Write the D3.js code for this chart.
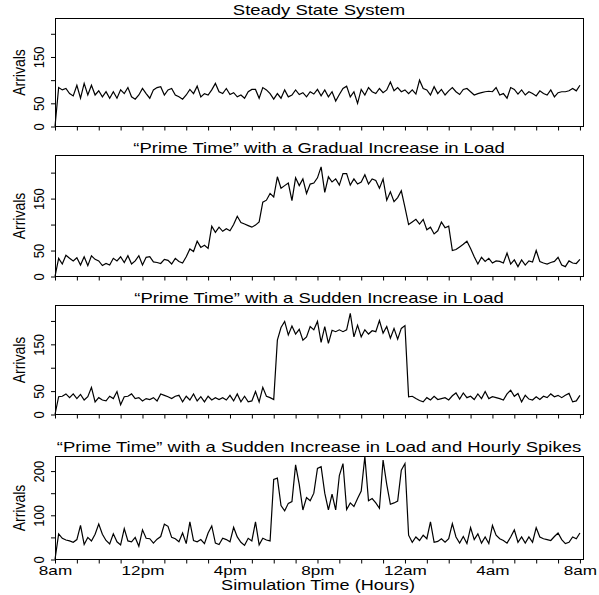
<!DOCTYPE html>
<html>
<head>
<meta charset="utf-8">
<script src="https://cdn.jsdelivr.net/npm/d3@7"></script>
<style>
body { margin: 0; background: #fff; }
svg { display: block; font-family: "Liberation Sans", Arial, Helvetica, sans-serif; }
</style>
</head>
<body>
<svg id="chart" width="599" height="595"></svg>
<script>
// arrivals per 10 minute interval, 8am -> 8am (145 samples)
var steady = [
  0, 84, 79, 82, 71, 66, 89, 61, 93, 68,
  89, 68, 77, 64, 75, 61, 75, 61, 79, 71,
  84, 64, 59, 68, 82, 71, 61, 79, 84, 86,
  68, 79, 82, 68, 64, 59, 68, 80, 71, 87,
  64, 71, 68, 79, 93, 75, 71, 82, 69, 73,
  64, 68, 61, 75, 80, 80, 61, 84, 79, 71,
  59, 71, 61, 79, 64, 68, 79, 69, 73, 64,
  75, 70, 80, 66, 79, 64, 75, 55, 69, 82,
  87, 64, 75, 50, 80, 68, 84, 75, 71, 82,
  73, 79, 96, 77, 84, 75, 79, 71, 79, 70,
  100, 82, 79, 68, 86, 71, 80, 68, 77, 84,
  75, 69, 80, 82, 75, 68, 71, 73, 75, 76,
  75, 84, 68, 71, 61, 84, 80, 70, 79, 68,
  75, 71, 66, 77, 71, 68, 79, 64, 73, 75,
  75, 77, 82, 77, 89
];
var gradual = [
  0, 35, 24, 41, 35, 30, 36, 22, 38, 21,
  40, 33, 30, 21, 25, 22, 35, 30, 38, 27,
  40, 24, 30, 40, 22, 37, 38, 28, 27, 25,
  33, 31, 24, 35, 29, 26, 38, 53, 48, 68,
  56, 60, 54, 97, 85, 95, 87, 92, 88, 100,
  116, 104, 101, 98, 95, 99, 105, 143, 147, 160,
  153, 192, 170, 175, 180, 146, 190, 175, 188, 160,
  178, 180, 190, 211, 162, 192, 182, 188, 176, 198,
  198, 176, 188, 178, 182, 196, 178, 188, 185, 170,
  188, 147, 163, 144, 152, 165, 133, 100, 105, 110,
  101, 110, 90, 95, 82, 88, 105, 94, 97, 50,
  52, 57, 62, 68, 54, 38, 24, 37, 29, 35,
  26, 30, 29, 26, 45, 24, 32, 19, 32, 22,
  30, 28, 50, 29, 26, 24, 27, 29, 37, 22,
  19, 30, 26, 25, 33
];
var sudden = [
  0, 38, 39, 44, 36, 44, 34, 43, 31, 38,
  58, 27, 36, 31, 29, 39, 34, 49, 21, 38,
  39, 44, 34, 36, 29, 34, 32, 36, 29, 44,
  41, 38, 34, 39, 41, 27, 39, 31, 44, 29,
  38, 27, 39, 31, 36, 32, 36, 31, 41, 29,
  44, 27, 39, 27, 29, 49, 27, 58, 39, 36,
  32, 159, 186, 199, 170, 189, 172, 182, 159, 166,
  188, 181, 199, 154, 188, 152, 180, 177, 181, 177,
  181, 216, 166, 191, 166, 181, 172, 179, 177, 201,
  174, 188, 163, 184, 161, 184, 190, 38, 39, 34,
  30, 27, 36, 31, 39, 32, 34, 36, 31, 40,
  46, 33, 46, 36, 39, 32, 44, 34, 49, 34,
  38, 36, 34, 31, 44, 52, 39, 45, 27, 41,
  33, 31, 38, 32, 39, 36, 44, 38, 41, 36,
  41, 45, 27, 29, 41
];
var spikes = [
  0, 58, 48, 44, 42, 39, 45, 77, 34, 50,
  42, 57, 80, 57, 43, 35, 58, 40, 33, 70,
  42, 40, 50, 30, 67, 48, 47, 37, 46, 52,
  80, 75, 50, 47, 40, 60, 36, 85, 43, 40,
  45, 36, 60, 76, 37, 34, 48, 45, 40, 73,
  51, 39, 32, 48, 42, 85, 33, 48, 44, 42,
  181, 184, 122, 110, 127, 131, 214, 170, 112, 140,
  133, 150, 206, 210, 150, 112, 148, 112, 190, 217,
  113, 128, 120, 138, 155, 233, 133, 138, 128, 116,
  225, 170, 125, 128, 132, 202, 217, 55, 39, 51,
  43, 55, 47, 85, 39, 41, 47, 39, 47, 81,
  51, 37, 52, 36, 72, 45, 58, 37, 51, 36,
  77, 55, 47, 43, 37, 51, 67, 39, 51, 37,
  51, 39, 72, 51, 47, 45, 43, 52, 60, 45,
  36, 39, 51, 47, 60
];

var titles = [
  "Steady State System",
  "\u201CPrime Time\u201D with a Gradual Increase in Load",
  "\u201CPrime Time\u201D with a Sudden Increase in Load",
  "\u201CPrime Time\u201D with a Sudden Increase in Load and Hourly Spikes"
];
var hourTicks = d3.range(0, 25);
var labelHours = [0, 4, 8, 12, 16, 20, 24];
var hourLabels = ["8am", "12pm", "4pm", "8pm", "12am", "4am", "8am"];
var yTicks = [0, 50, 100, 150, 200];
var minutesPerSample = 10;

var svg = d3.select("#chart");
var left = 55, right = 583;
var sx = 1.32; // text in the original is stretched horizontally

var yMax = d3.max([steady, gradual, sudden, spikes], function(s) { return d3.max(s); });

var x = d3.scaleLinear().domain([0, 24.14]).range([left, right]);

var panels = [
  {data: steady,  title: titles[0], top: 18.5,  bottom: 126.5, yLabels: [0, 50, 150], titleY: 15},
  {data: gradual, title: titles[1], top: 155.5, bottom: 276.5, yLabels: [0, 50, 150], titleY: 152.5},
  {data: sudden,  title: titles[2], top: 305.5, bottom: 414.5, yLabels: [0, 50, 150], titleY: 302.5},
  {data: spikes,  title: titles[3], top: 456.5, bottom: 559.5, yLabels: [0, 100, 200], titleY: 452}
];

function stretched(g, px, py, txt, size, k) {
  return g.append("text")
    .attr("transform", "translate(" + px + "," + py + ") scale(" + k + ",1)")
    .attr("text-anchor", "middle")
    .style("font-size", size + "px")
    .attr("fill", "#000")
    .text(txt);
}

panels.forEach(function(p, n) {
  var g = svg.append("g");
  var y = d3.scaleLinear().domain([0, yMax]).range([p.bottom, p.top]);

  // x axis ticks every hour
  var xAxis = d3.axisBottom(x)
    .tickValues(hourTicks)
    .tickSize(4)
    .tickFormat(function(d) {
      var k = labelHours.indexOf(d);
      return (n == 3 && k >= 0) ? hourLabels[k] : "";
    });
  var xg = g.append("g")
    .attr("transform", "translate(0," + p.bottom + ")")
    .call(xAxis);
  xg.select(".domain").remove();
  xg.selectAll("line").attr("stroke", "#000");
  xg.selectAll("text")
    .attr("y", 0).attr("dy", 0)
    .attr("transform", "translate(0,15) scale(1.27,1)")
    .style("font-size", "13.5px")
    .style("font-family", "Liberation Sans, Arial, sans-serif")
    .attr("fill", "#000");

  // y axis, rotated labels
  var yAxis = d3.axisLeft(y)
    .tickValues(yTicks)
    .tickSize(4)
    .tickFormat(function(d) { return p.yLabels.indexOf(d) >= 0 ? d : ""; });
  var yg = g.append("g")
    .attr("transform", "translate(" + left + ",0)")
    .call(yAxis);
  yg.select(".domain").remove();
  yg.selectAll("line").attr("stroke", "#000");
  yg.selectAll("text")
    .attr("x", 0).attr("dy", 0)
    .attr("text-anchor", "middle")
    .attr("transform", "translate(-11.5,0) scale(1.1,1) rotate(-90)")
    .style("font-size", "13px")
    .style("font-family", "Liberation Sans, Arial, sans-serif")
    .attr("fill", "#000");

  // y axis title
  g.append("text")
    .attr("transform", "translate(25," + ((p.top + p.bottom) / 2) + ") scale(1.15,1) rotate(-90)")
    .attr("text-anchor", "middle")
    .style("font-size", "14px")
    .text("Arrivals");

  // series line
  var line = d3.line()
    .x(function(d, i) { return x(i * minutesPerSample / 60); })
    .y(function(d) { return y(d); });
  g.append("path")
    .datum(p.data)
    .attr("d", line)
    .attr("fill", "none")
    .attr("stroke", "#000")
    .attr("stroke-width", 1.2);

  // box
  g.append("rect")
    .attr("x", left + 0.5).attr("y", p.top)
    .attr("width", right - left).attr("height", p.bottom - p.top)
    .attr("fill", "none")
    .attr("stroke", "#000")
    .attr("stroke-width", 1);

  stretched(g, 319, p.titleY, p.title, 14, sx);
});

stretched(svg, 318, 589.5, "Simulation Time (Hours)", 13.8, 1.31);
</script>
</body>
</html>
